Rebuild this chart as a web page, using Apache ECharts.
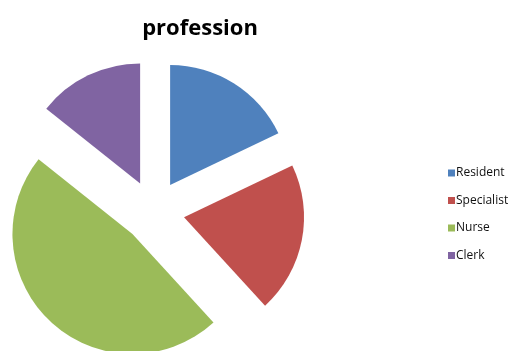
<!DOCTYPE html>
<html>
<head>
<meta charset="utf-8">
<script src="https://cdn.jsdelivr.net/npm/echarts@6/dist/echarts.min.js"></script>
<style>html,body{margin:0;padding:0;background:#fff;}#c{width:514px;height:351px;}</style>
</head>
<body>
<div id="c"></div>
<script>
const categories = ["Resident", "Specialist", "Nurse", "Clerk"];
const values = [17.9, 20.3, 47.5, 14.3];
const colors = ["#4F81BD", "#C0504D", "#9BBB59", "#8064A2"];

const chart = echarts.init(document.getElementById('c'), null, {renderer: 'canvas'});
chart.setOption({
  backgroundColor: '#ffffff',
  animation: false,
  title: {
    text: 'profession',
    left: 195, top: 13, textAlign: 'center',
    textStyle: {fontFamily: 'Open Sans', fontWeight: 'bold', fontSize: 22, color: '#000'}
  },
  legend: {
    orient: 'vertical',
    left: 443, top: 161,
    itemWidth: 7, itemHeight: 7, itemGap: 13.5,
    icon: 'rect',
    selectedMode: false,
    textStyle: {fontFamily: 'Open Sans', fontSize: 12, color: '#111', lineHeight: 14, padding: [0,0,0,-4]},
    data: categories
  },
  series: [{
    type: 'pie',
    center: [153.6, 211.3],
    radius: 120,
    startAngle: 90,
    clockwise: true,
    selectedMode: 'multiple',
    selectedOffset: 31,
    label: {show: false},
    labelLine: {show: false},
    emphasis: {disabled: true},
    itemStyle: {borderWidth: 0},
    data: categories.map((n, i) => ({name: n, value: values[i], selected: true, itemStyle: {color: colors[i]}}))
  }]
});
</script>
</body>
</html>
